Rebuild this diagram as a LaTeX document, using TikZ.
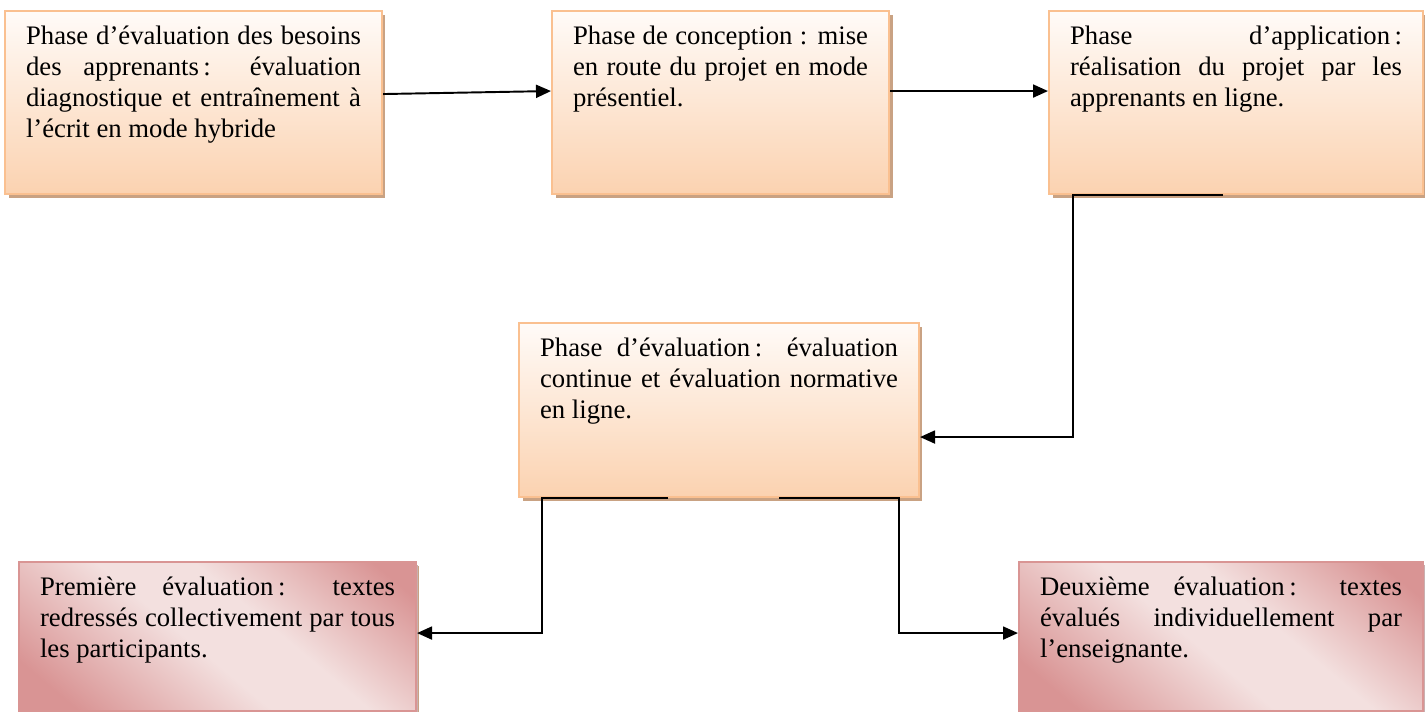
\documentclass[tikz,border=0pt]{standalone}
\usepackage{fontspec}
\setmainfont{Liberation Serif}
\usetikzlibrary{arrows.meta,shadows}
\definecolor{peachtop}{HTML}{FFFBF8}
\definecolor{peachbot}{HTML}{FBD2B0}
\definecolor{peachline}{HTML}{FAC090}
\definecolor{peachshadow}{HTML}{C9A283}
\definecolor{rosel}{HTML}{F3E0DF}
\definecolor{rosed}{HTML}{D99494}
\definecolor{roseline}{HTML}{D99594}
\definecolor{roseshadow}{HTML}{C9B0B0}
\pgfdeclareverticalshading{rosebande}{100bp}{color(0bp)=(rosed); color(22bp)=(rosed); color(46bp)=(rosel); color(58bp)=(rosel); color(80bp)=(rosed); color(100bp)=(rosed)}
\hyphenpenalty=10000
\exhyphenpenalty=10000
\tolerance=10000

\begin{document}
\begin{tikzpicture}[x=0.02cm, y=-0.02cm]
\tikzset{phase/.style={draw=peachline, line width=1.2pt, top color=peachtop, bottom color=peachbot,
    drop shadow={shadow xshift=0.07cm, shadow yshift=-0.07cm, fill=peachshadow, opacity=1},
    anchor=north west, inner xsep=0.42cm, inner ysep=0.3cm,
    font=\fontsize{15.2}{17.6}\selectfont},
  bilan/.style={phase, draw=roseline, shading=rosebande, shading angle=-40,
    drop shadow={shadow xshift=0.05cm, shadow yshift=-0.05cm, fill=roseshadow, opacity=1}},
  fleche/.style={line width=1.1pt, -{Triangle[length=0.3cm, width=0.26cm]}}}
\useasboundingbox (0,0) rectangle (1425,711);
% les trois phases du haut
\node[phase] (besoins) at (4,10) {\parbox[t][3.06cm][t]{6.70cm}{Phase d’évaluation des besoins\linebreak des apprenants\,: évaluation\linebreak diagnostique et entraînement à\linebreak l’écrit en mode hybride}};
\node[phase] (conception) at (551,10) {\parbox[t][3.06cm][t]{5.90cm}{Phase de conception : mise\linebreak en route du projet en mode\linebreak présentiel.}};
\node[phase] (application) at (1048,10) {\parbox[t][3.06cm][t]{6.64cm}{Phase d’application\,:\linebreak réalisation du projet par les\linebreak apprenants en ligne.}};
% phase d'evaluation
\node[phase] (evaluation) at (518,322) {\parbox[t][2.88cm][t]{7.16cm}{Phase d’évaluation\,: évaluation\linebreak continue et évaluation normative\linebreak en ligne.}};
% les deux evaluations
\node[bilan] (premiere) at (18,561) {\parbox[t][2.38cm][t]{7.10cm}{Première évaluation\,: textes\linebreak redressés collectivement par tous\linebreak les participants.}};
\node[bilan] (deuxieme) at (1018,561) {\parbox[t][2.38cm][t]{7.24cm}{Deuxième évaluation\,: textes\linebreak évalués individuellement par\linebreak l’enseignante.}};
% connecteurs
\draw[fleche] ([yshift=0.17cm]besoins.east) -- ([yshift=0.23cm]conception.west);
\draw[fleche] ([yshift=0.23cm]conception.east) -- ([yshift=0.23cm]application.west);
\draw[fleche] ([xshift=-0.27cm]application.south) -- ++(-150,0) |- ([yshift=-0.54cm]evaluation.east);
\draw[fleche] ([xshift=-1.02cm]evaluation.south) -- ++(-126,0) |- ([yshift=0.07cm]premiere.east);
\draw[fleche] ([xshift=1.2cm]evaluation.south) -- ++(120,0) |- ([yshift=0.07cm]deuxieme.west);
\end{tikzpicture}
\end{document}
